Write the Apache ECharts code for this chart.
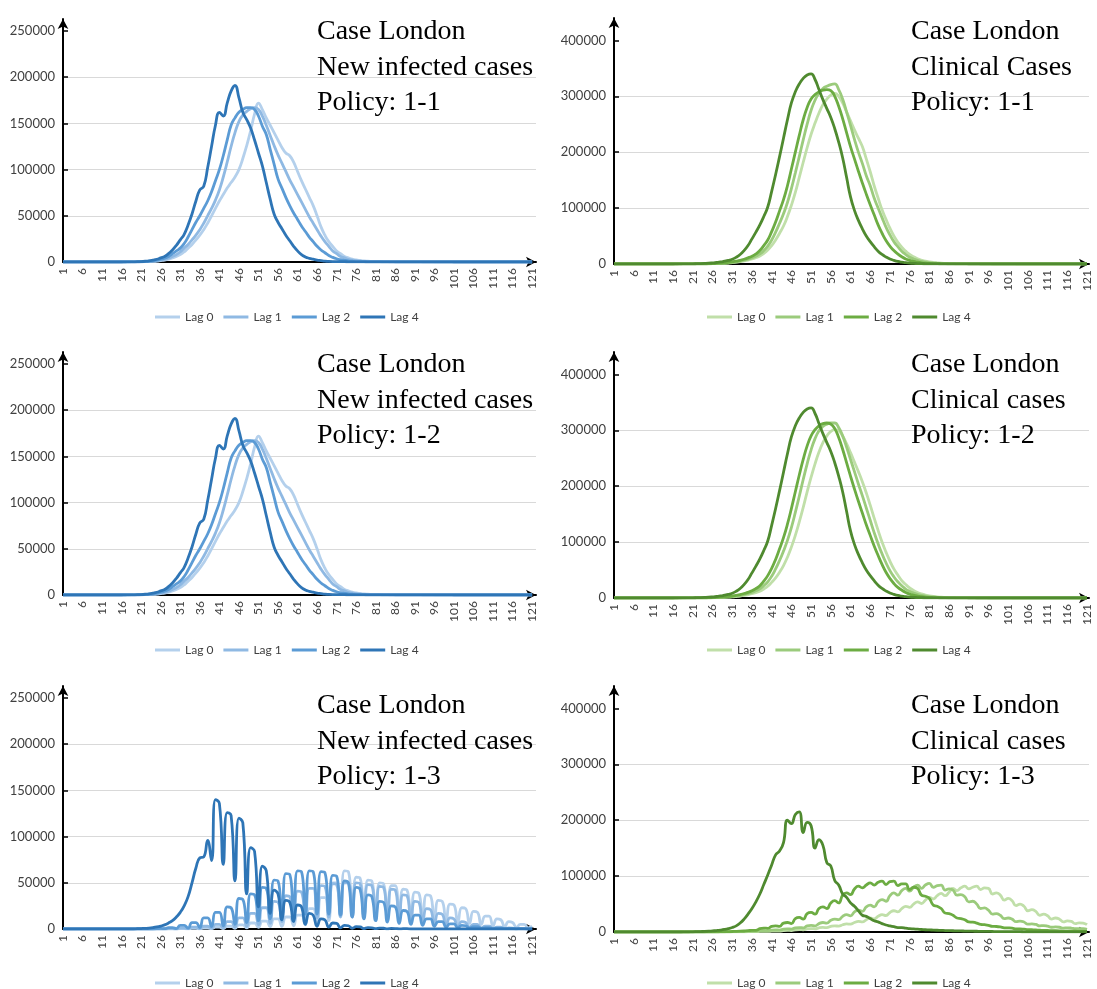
<!DOCTYPE html>
<html>
<head>
<meta charset="utf-8">
<script src="https://cdn.jsdelivr.net/npm/echarts@6/dist/echarts.min.js"></script>
<style>
  html, body { margin: 0; padding: 0; background: #fff; }
  #chart { width: 1097px; height: 989px; }
</style>
</head>
<body>
<div id="chart"></div>
<script>
// daily values for day 1..121, in thousands of cases

// Policy 1-1, new infected cases
const new11Lag0 = [
  0,0,0,0,0,0,0,0,0,0,
  0,0,0,0,0,0,0,0,0.1,0.1,
  0.2,0.3,0.5,0.7,1,1.5,2,3,4.5,6,
  8,11,15,19,24,29,35,42,50,58,
  66,73,80,86,92,100,112,126,142,160,
  172,165,156,148,140,132,124,118,115,108,
  98,88,79,70,61,50,38,29,22,17,
  12,9,6,4.5,3.2,2.3,1.7,1.2,0.9,0.7,
  0.5,0.4,0.3,0.3,0.2,0.2,0.2,0.1,0.1,0.1,
  0.1,0.1,0.1,0.1,0.1,0,0,0,0,0,
  0,0,0,0,0,0,0,0,0,0,
  0,0,0,0,0,0,0,0,0,0,
  0];
const new11Lag1 = [
  0,0,0,0,0,0,0,0,0,0,
  0,0,0,0,0,0,0,0.1,0.1,0.1,
  0.2,0.4,0.6,0.9,1.3,2,3,4,6,8,
  11,15,19,24,29,35,42,50,58,67,
  78,92,108,125,140,152,159,163,166,167,
  165,158,148,137,126,116,107,98,89,81,
  73,65,57,49,42,35,28,22,17,12,
  9,6,4.5,3,2,1.5,1,0.7,0.5,0.4,
  0.3,0.3,0.2,0.2,0.2,0.1,0.1,0.1,0.1,0.1,
  0.1,0.1,0,0,0,0,0,0,0,0,
  0,0,0,0,0,0,0,0,0,0,
  0,0,0,0,0,0,0,0,0,0,
  0];
const new11Lag2 = [
  0,0,0,0,0,0,0,0,0,0,
  0,0,0,0,0,0,0,0.1,0.1,0.2,
  0.3,0.5,0.8,1.2,2,3,4,6,9,12,
  15,20,27,35,43,50,58,66,76,88,
  100,115,132,148,156,162,165,167,167,165,
  158,147,138,122,106,90,80,70,61,53,
  46,39,33,27,22,17,13,10,7,5,
  3.5,2.5,1.8,1.2,0.8,0.5,0.4,0.3,0.2,0.2,
  0.1,0.1,0.1,0.1,0.1,0,0,0,0,0,
  0,0,0,0,0,0,0,0,0,0,
  0,0,0,0,0,0,0,0,0,0,
  0,0,0,0,0,0,0,0,0,0,
  0];
const new11Lag4 = [
  0,0,0,0,0,0,0,0,0,0,
  0,0,0,0,0,0,0.1,0.1,0.2,0.3,
  0.5,0.8,1.2,2,3,4.5,6,9,13,18,
  24,30,40,52,66,78,82,102,125,148,
  162,158,172,185,191,178,162,154,145,132,
  118,104,86,68,52,43,36,29,23,17,
  12,8,5.5,4,3,2,1.5,1,0.7,0.5,
  0.4,0.3,0.3,0.2,0.2,0.2,0.1,0.1,0.1,0.1,
  0.1,0.1,0.1,0.1,0.1,0.1,0.1,0.1,0.1,0.1,
  0.1,0.1,0.1,0.1,0.1,0.1,0.1,0.1,0.1,0.1,
  0,0,0,0,0,0,0,0,0,0,
  0,0,0,0,0,0,0,0,0,0,
  0];

// Policy 1-2, new infected cases (same curves as 1-1 in the picture)
const new12Lag0 = new11Lag0;
const new12Lag1 = new11Lag1;
const new12Lag2 = new11Lag2;
const new12Lag4 = new11Lag4;

// Policy 1-3, new infected cases
const new13Lag0 = [
  0,0,0,0,0,0,0,0,0,0,
  0,0,0,0,0,0,0,0,0,0,
  0,0,0,0,0,0,0,0,0,0,
  0.3,0.3,0.1,0.6,0.6,0.2,1,1,0.3,2,
  2,0.5,3,3,0.8,4.5,4.5,1.2,6.5,6.5,
  1.8,8.5,8.5,2.5,11,11,3,13,13,3.5,
  15,15,4.5,22,22,6,34,34,9,50,
  50,14,63,62,16,56,55,15,53,52,
  14,50,49,13,47,47,12,43,42,11,
  40,39,10,37,36,9,31,30,8,27,
  26,7,23,22,6,19,18,5,14,14,
  3.5,11,10,2.5,8,7,1.8,5,5,1.2,
  3];
const new13Lag1 = [
  0,0,0,0,0,0,0,0,0,0,
  0,0,0,0,0,0,0,0,0,0,
  0,0,0,0,0,0,0,0.3,0.3,0.1,
  1,1,0.3,2,2,0.5,3,3,0.8,5,
  5,1.2,8,8,2,12,12,3,17,17,
  4.5,23,23,6,30,29,8,36,35,10,
  41,40,11,44,44,12,47,46,13,49,
  48,13,50,50,13,50,49,13,48,47,
  12,46,45,12,43,42,11,37,36,9,
  30,29,7.5,22,21,5.5,17,16,4,12,
  11,3,8,7,2,5,5,1.3,3,3,
  0.8,2,2,0.5,1.2,1,0.3,0.6,0.5,0.1,
  0.3];
const new13Lag2 = [
  0,0,0,0,0,0,0,0,0,0,
  0,0,0,0,0,0,0,0,0,0,
  0,0,0,0,0.3,0.6,0.3,1.5,1.5,0.5,
  4,4,1,7,7,1.5,12,12,2.5,18,
  18,3.5,24,23,5,33,32,7,38,37,
  9,45,44,11,53,52,13,60,59,15,
  63,62,16,63,62,16,62,61,16,58,
  57,15,52,50,13,45,43,11,37,35,
  9,30,29,7.5,25,24,6,20,19,5,
  15,15,4,11,11,3,8,8,2,5.5,
  5.5,1.5,4,3.5,1,2.5,2.5,0.7,1.5,1.5,
  0.4,1,1,0.3,0.6,0.6,0.2,0.4,0.4,0.1,
  0.2];
const new13Lag4 = [
  0,0,0,0,0,0,0,0,0,0,
  0,0,0,0,0,0,0,0,0,0.3,
  0.5,0.7,1,1.5,2.2,3.2,4.5,6.5,9,13,
  18,25,35,50,66,77,78,96,74,140,
  136,70,126,123,52,120,115,38,88,84,
  24,68,63,17,42,38,10,31,29,8,
  26,24,5,17,15,3,11,10,2,6.5,
  6,1.2,4,3.5,0.8,2.5,2.2,0.5,1.5,1.3,
  0.3,1,0.8,0.2,0.6,0.5,0.1,0.3,0.3,0,
  0,0,0,0,0,0,0,0,0,0,
  0,0,0,0,0,0,0,0,0,0,
  0,0,0,0,0,0,0,0,0,0,
  0];

// Policy 1-1, clinical cases
const clin11Lag0 = [
  0,0,0,0,0,0,0,0,0,0,
  0,0,0,0,0,0,0,0,0.1,0.1,
  0.1,0.1,0.2,0.2,0.3,0.5,0.7,1,1.3,1.8,
  2.4,3.2,4.2,5.5,7,9,11.5,14.5,19,25,
  33,43,55,68,85,105,128,155,182,208,
  232,252,270,285,295,302,305,300,288,272,
  256,240,225,210,188,165,140,118,97,80,
  64,50,39,30,23,17,13,9.5,7,5,
  3.7,2.7,2,1.4,1,0.7,0.5,0.4,0.3,0.3,
  0.2,0.2,0.2,0.1,0.1,0.1,0.1,0.1,0.1,0.1,
  0.1,0.1,0,0,0,0,0,0,0,0,
  0,0,0,0,0,0,0,0,0,0,
  0];
const clin11Lag1 = [
  0,0,0,0,0,0,0,0,0,0,
  0,0,0,0,0,0,0,0,0.1,0.1,
  0.1,0.2,0.2,0.3,0.4,0.6,0.9,1.2,1.6,2.2,
  3,4,5.2,6.8,8.8,11,14,18,24,32,
  43,57,73,90,110,135,163,192,222,250,
  275,293,306,314,318,321,322,312,295,272,
  248,223,200,180,158,140,118,100,83,66,
  52,40,31,23,17,12,9,6.5,4.8,3.5,
  2.4,1.7,1.2,0.8,0.5,0.4,0.3,0.3,0.2,0.2,
  0.2,0.1,0.1,0.1,0.1,0.1,0,0,0,0,
  0,0,0,0,0,0,0,0,0,0,
  0,0,0,0,0,0,0,0,0,0,
  0];
const clin11Lag2 = [
  0,0,0,0,0,0,0,0,0,0,
  0,0,0,0,0,0,0,0.1,0.1,0.1,
  0.2,0.2,0.3,0.4,0.5,0.8,1.1,1.5,2,2.8,
  3.8,5,6.5,8.5,11,14,18,24,33,43,
  58,75,95,115,140,170,200,230,258,280,
  295,303,308,311,312,310,300,282,260,235,
  210,188,166,145,125,106,88,70,55,42,
  32,24,18,13,9,6.5,4.5,3.2,2.2,1.5,
  1,0.7,0.5,0.4,0.3,0.3,0.2,0.2,0.2,0.1,
  0.1,0.1,0.1,0,0,0,0,0,0,0,
  0,0,0,0,0,0,0,0,0,0,
  0,0,0,0,0,0,0,0,0,0,
  0];
const clin11Lag4 = [
  0,0,0,0,0,0,0,0,0,0,
  0,0,0,0,0,0,0.1,0.1,0.1,0.2,
  0.3,0.5,0.7,1,1.4,2,2.7,3.6,5,6.5,
  8.5,12,17,24,33,45,57,70,85,102,
  130,160,192,225,258,288,308,322,332,338,
  340,330,312,294,278,262,242,218,190,155,
  120,96,78,63,50,40,31,23,17,12.5,
  9,6.5,4.5,3.2,2.3,1.6,1.1,0.8,0.5,0.4,
  0.3,0.3,0.2,0.2,0.1,0.1,0.1,0.1,0.1,0.1,
  0,0,0,0,0,0,0,0,0,0,
  0,0,0,0,0,0,0,0,0,0,
  0,0,0,0,0,0,0,0,0,0,
  0];

// Policy 1-2, clinical cases
const clin12Lag0 = [
  0,0,0,0,0,0,0,0,0,0,
  0,0,0,0,0,0,0,0,0,0.1,
  0.1,0.1,0.2,0.2,0.3,0.4,0.6,0.8,1.1,1.5,
  2,2.7,3.5,4.6,6,7.6,9.6,12,16,21,
  28,36,46,58,73,91,112,136,162,190,
  216,240,261,278,290,298,301,299,290,276,
  260,243,226,208,188,166,143,121,100,82,
  66,52,41,31,24,18,13.5,10,7.3,5.3,
  3.9,2.8,2,1.4,1,0.7,0.5,0.4,0.3,0.3,
  0.2,0.2,0.2,0.1,0.1,0.1,0.1,0.1,0.1,0.1,
  0.1,0,0,0,0,0,0,0,0,0,
  0,0,0,0,0,0,0,0,0,0,
  0];
const clin12Lag1 = [
  0,0,0,0,0,0,0,0,0,0,
  0,0,0,0,0,0,0,0,0.1,0.1,
  0.1,0.2,0.2,0.3,0.4,0.5,0.8,1.1,1.5,2,
  2.7,3.6,4.7,6.2,8,10,13,16.5,22,29,
  39,52,67,84,103,126,153,182,212,240,
  265,285,299,307,311,313,313,305,290,270,
  248,226,204,183,161,139,117,97,79,63,
  49,38,29,22,16,12,9,6.5,4.8,3.5,
  2.5,1.8,1.3,0.9,0.6,0.4,0.3,0.3,0.2,0.2,
  0.2,0.1,0.1,0.1,0.1,0,0,0,0,0,
  0,0,0,0,0,0,0,0,0,0,
  0,0,0,0,0,0,0,0,0,0,
  0];
const clin12Lag2 = [
  0,0,0,0,0,0,0,0,0,0,
  0,0,0,0,0,0,0,0.1,0.1,0.1,
  0.2,0.2,0.3,0.4,0.5,0.7,1,1.4,1.9,2.6,
  3.5,4.6,6,8,10,13,17,22,30,40,
  53,69,88,108,132,160,190,220,248,272,
  290,301,308,312,313,311,303,287,266,242,
  218,195,173,152,131,112,93,76,60,46,
  35,26,19,14,10,7,5,3.5,2.4,1.6,
  1.1,0.8,0.5,0.4,0.3,0.3,0.2,0.2,0.2,0.1,
  0.1,0.1,0,0,0,0,0,0,0,0,
  0,0,0,0,0,0,0,0,0,0,
  0,0,0,0,0,0,0,0,0,0,
  0];
const clin12Lag4 = clin11Lag4;

// Policy 1-3, clinical cases
const clin13Lag0 = [
  0,0,0,0,0,0,0,0,0,0,
  0,0,0,0,0,0,0,0,0,0,
  0,0,0,0,0,0,0,0,0,0.2,
  0.25,0.3,0.35,0.4,0.5,0.6,0.65,1,1.1,1.1,
  1.6,1.8,1.7,2.6,2.9,2.7,3.8,4.2,4,5.5,
  6,5.7,7.5,8.2,7.8,10,11,10.5,13,14.5,
  14,17,19,18,22,25,23.5,28,31,29.5,
  35,38,36,42,46,44,50,54,51,57,
  62,59,65,69,65,71,78,74,79,82,
  77,80,82,76,79,78,68,70,66,57,
  60,56,47,50,46,38,40,37,30,32,
  29,23,25,23,18,20,19,15,16.5,16,
  13];
const clin13Lag1 = [
  0,0,0,0,0,0,0,0,0,0,
  0,0,0,0,0,0,0,0,0,0,
  0,0,0,0,0.1,0.15,0.2,0.3,0.35,0.4,
  0.5,0.6,0.7,0.9,1,1.2,1.3,2,2.2,2,
  3.3,3.6,3.5,5,5.5,5.2,7.5,8,7.5,11,
  12,11,15,17,16,21,23,22,28,31,
  29,36,39,37,45,48,45,54,58,55,
  65,70,66,74,78,73,80,84,78,84,
  87,80,83,84,75,77,75,66,67,63,
  54,55,50,42,43,39,32,33,30,24,
  25,23,18.5,19.5,18,14,14.5,13.5,11,11.5,
  10.5,8.5,9,8.5,7,7.5,7,5.8,6,5.8,
  4.8];
const clin13Lag2 = [
  0,0,0,0,0,0,0,0,0,0,
  0,0,0,0,0,0,0,0,0,0,
  0.1,0.1,0.2,0.2,0.2,0.3,0.4,0.5,0.6,0.7,
  0.9,1.1,1.4,1.8,2.3,3,2.8,6,7,6.5,
  10,11,10,16,17,15,24,26,23,33,
  35,32,42,45,42,52,56,52,66,70,
  67,77,82,79,84,88,84,89,91,85,
  90,91,83,86,86,76,80,78,66,64,
  60,48,46,42,34,33,30,25,24,22,
  18,17.5,16,13.5,13,12,10,9.8,9,7.5,
  7.3,6.8,5.6,5.5,5,4.2,4,3.7,3.1,3,
  2.8,2.3,2.2,2,1.7,1.6,1.5,1.3,1.2,1.1,
  1];
const clin13Lag4 = [
  0,0,0,0,0,0,0,0,0,0,
  0,0,0,0,0,0,0,0,0.2,0.3,
  0.4,0.6,0.8,1,1.4,2,2.6,3.4,4.5,6,
  8,11,16,23,32,42,54,68,85,102,
  120,138,145,160,200,194,210,215,178,196,
  190,150,165,155,124,118,92,84,68,62,
  52,46,38,30,28,24,20,18,15,12.5,
  11,9.5,8,8,7,6,5.5,5,4.5,4,
  3.8,3.4,3.1,2.9,2.6,2.4,2.2,2,1.9,1.7,
  1.5,1.4,1.3,1.2,1.1,1,0.9,0.8,0.8,0.7,
  0.6,0.6,0.5,0.5,0.4,0.4,0.4,0.3,0.3,0.3,
  0.3,0.2,0.2,0.2,0.2,0.2,0.1,0.1,0.1,0.1,
  0.1];

const dayTicks = [1, 6, 11, 16, 21, 26, 31, 36, 41, 46, 51, 56, 61, 66, 71, 76, 81, 86, 91, 96, 101, 106, 111, 116, 121];
const newTicks = [0, 50000, 100000, 150000, 200000, 250000];
const clinTicks = [0, 100000, 200000, 300000, 400000];
const lagNames = ['Lag 0', 'Lag 1', 'Lag 2', 'Lag 4'];

const blues = ['#b4d0ec', '#8fb9e3', '#5b9bd5', '#2e75b6'];
const greens = ['#c0dfa9', '#9bcb7c', '#6cac42', '#4f8a2f'];

const panels = [
  { col: 0, row: 0, title: 'Case London\nNew infected cases\nPolicy: 1-1', lines: [new11Lag0, new11Lag1, new11Lag2, new11Lag4], ticks: newTicks, colors: blues },
  { col: 1, row: 0, title: 'Case London\nClinical Cases\nPolicy: 1-1', lines: [clin11Lag0, clin11Lag1, clin11Lag2, clin11Lag4], ticks: clinTicks, colors: greens },
  { col: 0, row: 1, title: 'Case London\nNew infected cases\nPolicy: 1-2', lines: [new12Lag0, new12Lag1, new12Lag2, new12Lag4], ticks: newTicks, colors: blues },
  { col: 1, row: 1, title: 'Case London\nClinical cases\nPolicy: 1-2', lines: [clin12Lag0, clin12Lag1, clin12Lag2, clin12Lag4], ticks: clinTicks, colors: greens },
  { col: 0, row: 2, title: 'Case London\nNew infected cases\nPolicy: 1-3', lines: [new13Lag0, new13Lag1, new13Lag2, new13Lag4], ticks: newTicks, colors: blues },
  { col: 1, row: 2, title: 'Case London\nClinical cases\nPolicy: 1-3', lines: [clin13Lag0, clin13Lag1, clin13Lag2, clin13Lag4], ticks: clinTicks, colors: greens }
];

// page layout for the two columns of panels
const cols = [
  { left: 63, width: 473, xMax: 122, yMax: 263000, height: 243, zeroY: [262, 595, 929], legendLeft: 150, titleLeft: 317 },
  { left: 614, width: 475, xMax: 121.5, yMax: 440000, height: 246, zeroY: [264, 598, 932], legendLeft: 702, titleLeft: 911 }
];
const titleTop = [14, 347, 688];
const legendTop = [306, 639, 972];

const labelFont = 'Lato, "Open Sans", sans-serif';
const axisLine = {
  show: true,
  symbol: ['none', 'arrow'],
  symbolSize: [8, 10],
  lineStyle: { color: '#000', width: 2 }
};

const option = { animation: false, title: [], grid: [], xAxis: [], yAxis: [], legend: [], series: [] };

panels.forEach((p, i) => {
  const c = cols[p.col];
  option.title.push({
    text: p.title,
    left: c.titleLeft,
    top: titleTop[p.row],
    padding: 0,
    textStyle: { fontFamily: '"Liberation Serif", serif', fontSize: 28, fontWeight: 'normal', color: '#000', lineHeight: 35.5 }
  });
  option.grid.push({
    left: c.left,
    top: c.zeroY[p.row] - c.height,
    width: c.width,
    height: c.height,
    containLabel: false,
    outerBoundsMode: 'none'
  });
  option.xAxis.push({
    type: 'value',
    gridIndex: i,
    min: 1,
    max: c.xMax,
    axisLine: axisLine,
    axisTick: { show: false },
    splitLine: { show: false },
    axisLabel: {
      customValues: dayTicks,
      rotate: 90,
      margin: 6,
      fontFamily: labelFont,
      fontSize: 12,
      color: '#404040',
      formatter: (v) => String(v)
    }
  });
  option.yAxis.push({
    type: 'value',
    gridIndex: i,
    min: 0,
    max: c.yMax,
    axisLine: axisLine,
    axisTick: { show: true, inside: true, length: 5, customValues: p.ticks, lineStyle: { color: '#000', width: 1.5 } },
    splitLine: { show: true, customValues: p.ticks, showMaxLine: false, lineStyle: { color: '#d9d9d9', width: 1 } },
    axisLabel: {
      customValues: p.ticks,
      margin: 8,
      fontFamily: labelFont,
      fontSize: 13,
      color: '#404040',
      formatter: (v) => String(v)
    }
  });
  option.legend.push({
    data: lagNames.map((n) => i + '|' + n),
    formatter: (n) => n.split('|')[1],
    left: c.legendLeft,
    top: legendTop[p.row],
    icon: 'rect',
    itemWidth: 25,
    itemHeight: 3,
    itemGap: 10,
    selectedMode: false,
    textStyle: { fontFamily: labelFont, fontSize: 12, color: '#404040' }
  });
  p.lines.forEach((values, k) => {
    option.series.push({
      type: 'line',
      name: i + '|' + lagNames[k],
      xAxisIndex: i,
      yAxisIndex: i,
      data: values.map((v, d) => [d + 1, v * 1000]),
      smooth: 0.5,
      symbol: 'none',
      lineStyle: { width: 2.8, color: p.colors[k] },
      itemStyle: { color: p.colors[k] },
      z: 2 + k
    });
  });
});

const chart = echarts.init(document.getElementById('chart'), null, { renderer: 'canvas' });
chart.setOption(option);
</script>
</body>
</html>
